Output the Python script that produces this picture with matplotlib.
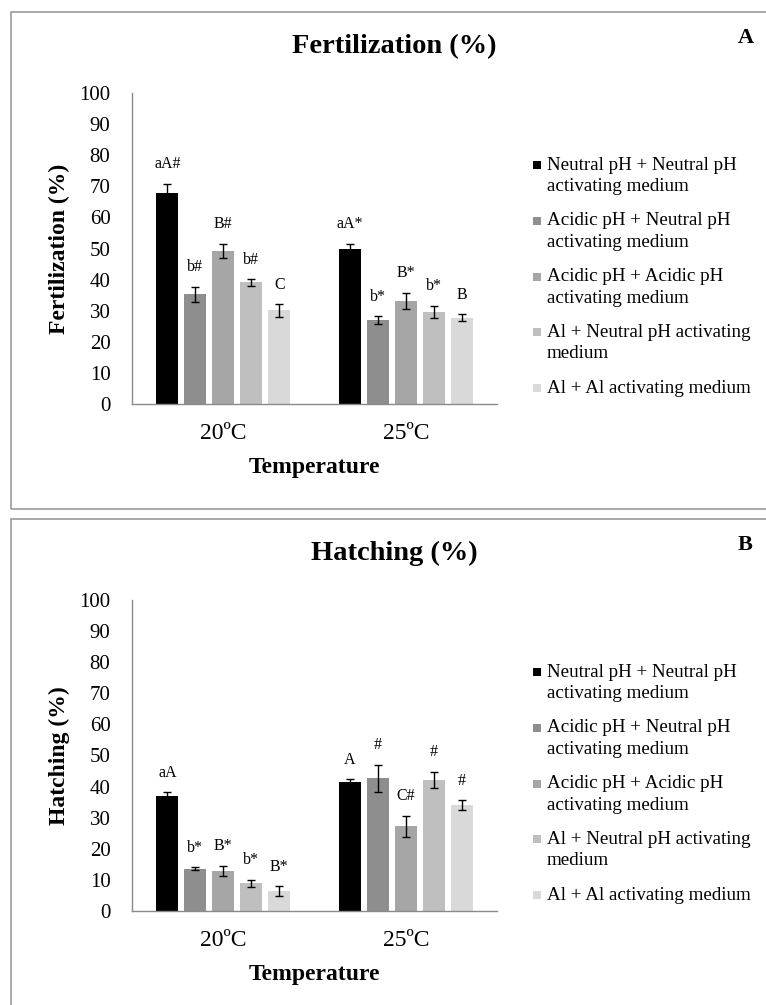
import matplotlib
matplotlib.use("Agg")
import matplotlib.pyplot as plt
from matplotlib.patches import Rectangle
import numpy as np

plt.rcParams["font.family"] = ["Liberation Serif", "DejaVu Serif"]

temperatures = ["20ºC", "25ºC"]
treatments = [
    "Neutral pH + Neutral pH\nactivating medium",
    "Acidic pH + Neutral pH\nactivating medium",
    "Acidic pH + Acidic pH\nactivating medium",
    "Al + Neutral pH activating\nmedium",
    "Al + Al activating medium",
]
bar_colors = ["#000000", "#8e8e8e", "#a6a6a6", "#bfbfbf", "#d9d9d9"]

# one row per treatment, one column per temperature
fert_mean = [[67.7, 49.7], [35.3, 27.0], [49.3, 33.2], [39.1, 29.6], [30.1, 27.8]]
fert_err = [[3.2, 1.8], [2.4, 1.3], [2.2, 2.6], [1.0, 2.0], [2.0, 1.1]]
fert_letters = [["aA#", "aA*"], ["b#", "b*"], ["B#", "B*"], ["b#", "b*"], ["C", "B"]]

hatch_mean = [[37.0, 41.6], [13.6, 42.7], [12.8, 27.2], [8.9, 42.2], [6.4, 34.1]]
hatch_err = [[1.2, 0.8], [0.5, 4.3], [1.7, 3.4], [1.2, 2.6], [1.6, 1.6]]
hatch_letters = [["aA", "A"], ["b*", "#"], ["B*", "C#"], ["b*", "#"], ["B*", "#"]]

yticks = list(range(0, 101, 10))

W, H = 766, 1005
fig = plt.figure(figsize=(W / 100, H / 100), dpi=100)


def fx(px):
    return px / W


def fy(py):
    return 1 - py / H


def draw_panel(dy, title, tag, ylabel, means, errs, letters):
    # frame around the panel
    fig.patches.append(Rectangle((fx(11), fy(509 + dy)), fx(780) - fx(11), (509 - 11.7) / H,
                                 transform=fig.transFigure, fill=False,
                                 edgecolor="#9a9a9a", linewidth=1.2))
    fig.text(fx(394.5), fy(46.7 + dy), title, ha="center", va="center",
             fontsize=20.5, fontweight="bold")
    fig.text(fx(745.5), fy(38 + dy), tag, ha="center", va="center",
             fontsize=16, fontweight="bold")

    ax = fig.add_axes([fx(132), fy(404 + dy), 365 / W, 311 / H])
    x = np.arange(len(temperatures))
    step = 0.1534
    width = 0.119
    for i in range(len(treatments)):
        xs = x + (i - 2) * step
        ax.bar(xs, means[i], width, color=bar_colors[i],
               yerr=errs[i], capsize=2.9,
               error_kw=dict(elinewidth=1.0, capthick=1.0, ecolor="black"))
        for j in range(len(temperatures)):
            ax.annotate(letters[i][j], (xs[j], means[i][j] + errs[i][j]),
                        xytext=(0, 14), textcoords="offset points",
                        ha="center", va="center", fontsize=11.5)

    ax.set_xlim(-0.5, 1.5)
    ax.set_ylim(0, 100)
    ax.set_yticks(yticks)
    ax.set_xticks(x)
    ax.set_xticklabels(temperatures)
    for s in ("top", "right"):
        ax.spines[s].set_visible(False)
    for s in ("left", "bottom"):
        ax.spines[s].set_color("#8a8a8a")
        ax.spines[s].set_linewidth(1.0)
    ax.tick_params(axis="y", length=0, labelsize=15, pad=15.5)
    ax.tick_params(axis="x", length=0, labelsize=17, pad=14)
    ax.set_ylabel(ylabel, fontsize=17, fontweight="bold", va="center")
    ax.yaxis.set_label_coords((59 - 132) / 365, 0.5)
    ax.set_xlabel("Temperature", fontsize=17, fontweight="bold", va="center")
    ax.xaxis.set_label_coords(0.5, (404 - 467) / 311)

    # legend: square swatch beside each (possibly two-line) label
    for i, label in enumerate(treatments):
        y0 = 165 + 55.8 * i + dy
        fig.patches.append(Rectangle((fx(533), fy(y0 + 4)), 8 / W, 8 / H,
                                     transform=fig.transFigure,
                                     facecolor=bar_colors[i], edgecolor="none"))
        for k, line in enumerate(label.split("\n")):
            fig.text(fx(547), fy(y0 + 21.5 * k), line, ha="left", va="center",
                     fontsize=13.7)
    return ax


draw_panel(0, "Fertilization (%)", "A", "Fertilization (%)", fert_mean, fert_err, fert_letters)
draw_panel(507, "Hatching (%)", "B", "Hatching (%)", hatch_mean, hatch_err, hatch_letters)

fig.savefig("out.png", dpi=100)
